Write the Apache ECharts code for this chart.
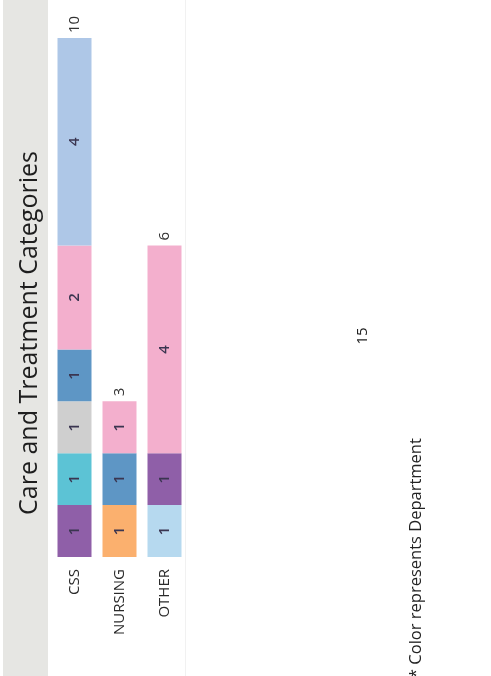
<!DOCTYPE html>
<html>
<head>
<meta charset="utf-8">
<script src="https://cdn.jsdelivr.net/npm/echarts@6/dist/echarts.min.js"></script>
<style>
  html, body { margin: 0; padding: 0; background: #fff; }
  #chart { width: 491px; height: 676px; }
</style>
</head>
<body>
<div id="chart"></div>
<script>
// categories on the (rotated) axis
const categories = ['CSS', 'NURSING', 'OTHER'];
// one array per department colour, stacked bottom -> top
const deptLightSky  = [null, null, 1];
const deptOrange    = [null, 1, null];
const deptPurple    = [1, null, 1];
const deptTeal      = [1, null, null];
const deptGray      = [1, null, null];
const deptSteel     = [1, 1, null];
const deptPink      = [2, 1, 4];
const deptLightBlue = [4, null, null];
const grandTotal = '15';

const stackParts = [
  { name: 'Dept 1', data: deptLightSky,  color: '#b6d9ef' },
  { name: 'Dept 2', data: deptOrange,    color: '#fbb06e' },
  { name: 'Dept 3', data: deptPurple,    color: '#8f5fa8' },
  { name: 'Dept 4', data: deptTeal,      color: '#5cc3d5' },
  { name: 'Dept 5', data: deptGray,      color: '#cfcfcf' },
  { name: 'Dept 6', data: deptSteel,     color: '#5e96c5' },
  { name: 'Dept 7', data: deptPink,      color: '#f3afcd' },
  { name: 'Dept 8', data: deptLightBlue, color: '#aec7e7' }
];
const totals = categories.map((c, i) =>
  stackParts.reduce((s, p) => s + (p.data[i] || 0), 0));

const font = '"Open Sans", "Noto Sans", sans-serif';
const myChart = echarts.init(document.getElementById('chart'));

const series = stackParts.map(p => ({
  name: p.name,
  type: 'bar',
  stack: 'dept',
  barWidth: 34,
  data: p.data,
  itemStyle: { color: p.color },
  label: {
    show: true,
    position: 'inside',
    rotate: 90,
    fontFamily: font,
    fontSize: 15,
    fontWeight: 600,
    color: '#3a3550'
  }
}));
// invisible bar just to carry the total on top
series.push({
  name: 'Total',
  type: 'bar',
  barWidth: 34,
  barGap: '-100%',
  z: 1,
  data: totals,
  itemStyle: { color: 'rgba(0,0,0,0)' },
  label: {
    show: true,
    position: 'top',
    rotate: 90,
    align: 'left',
    verticalAlign: 'middle',
    distance: 5,
    fontFamily: font,
    fontSize: 15,
    color: '#333'
  }
});

myChart.setOption({
  animation: false,
  backgroundColor: '#fff',
  grid: { left: 52, right: 304, top: 38, bottom: 119 },
  xAxis: {
    type: 'category',
    data: categories,
    axisLine: { show: false },
    axisTick: { show: false },
    axisLabel: {
      rotate: 90,
      margin: 12,
      fontFamily: font,
      fontSize: 15,
      color: '#2a2a2a'
    }
  },
  yAxis: {
    type: 'value',
    min: 0,
    max: 10,
    show: false
  },
  graphic: [
    { type: 'rect', z: -10, silent: true,
      shape: { x: 3, y: 0, width: 45, height: 676 },
      style: { fill: '#e6e6e3' } },
    { type: 'line', z: -10, silent: true,
      shape: { x1: 185.5, y1: 0, x2: 185.5, y2: 676 },
      style: { stroke: '#f1f1f1', lineWidth: 1 } },
    { type: 'text', x: 30, y: 333, rotation: Math.PI / 2,
      style: { text: 'Care and Treatment Categories', font: '25px ' + font,
               fill: '#1e1e1e', align: 'center', verticalAlign: 'middle' } },
    { type: 'text', x: 363, y: 336, rotation: Math.PI / 2,
      style: { text: grandTotal, font: '15px ' + font,
               fill: '#222', align: 'center', verticalAlign: 'middle' } },
    { type: 'text', x: 416, y: 678, rotation: Math.PI / 2,
      style: { text: '* Color represents Department', font: '16.5px ' + font,
               fill: '#222', align: 'left', verticalAlign: 'middle' } }
  ],
  series: series
});
</script>
</body>
</html>
